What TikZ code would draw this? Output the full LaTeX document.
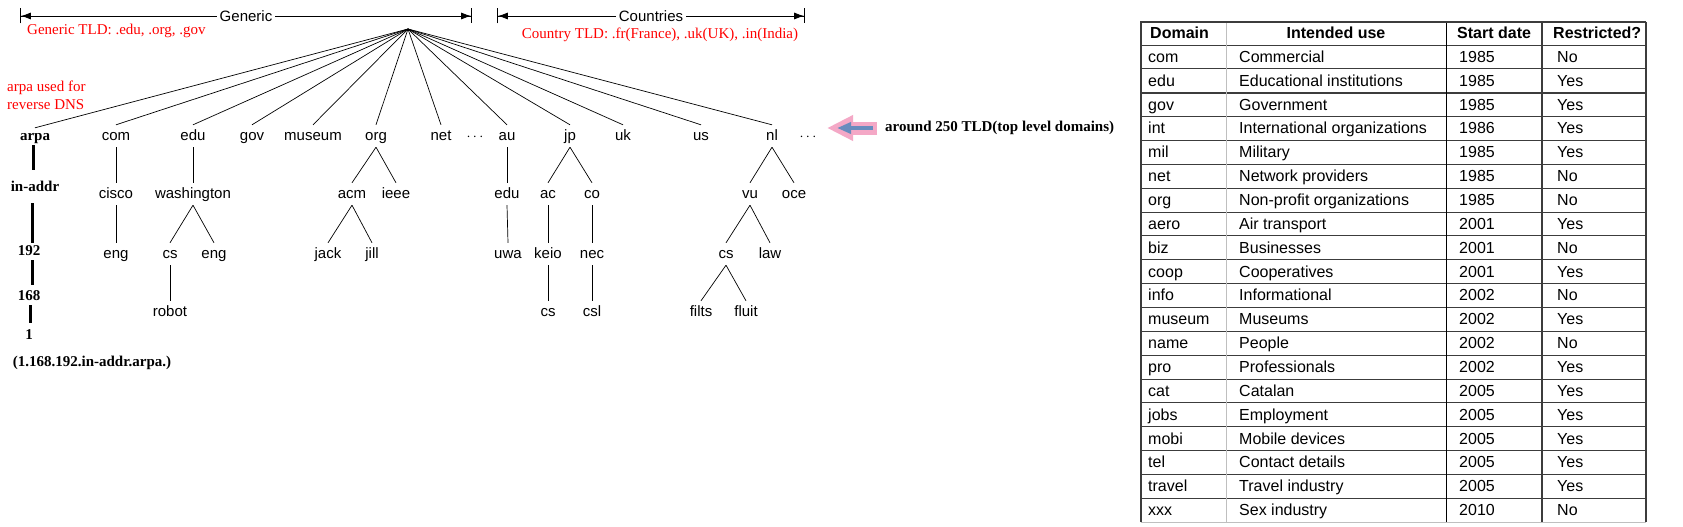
\documentclass[tikz,border=0pt]{standalone}
\usepackage{fontspec}
\setmainfont{Liberation Serif}
\setsansfont{Liberation Sans}
\usetikzlibrary{arrows.meta}
\newcommand\treefont{\sffamily\fontsize{15}{18}\selectfont}
\newcommand\notefont{\rmfamily\fontsize{15}{18}\selectfont}
\newcommand\cellfont{\sffamily\fontsize{16}{19}\selectfont}
\definecolor{pinkarrow}{RGB}{244,168,198}
\definecolor{bluearrow}{RGB}{104,140,190}
\definecolor{rulegray}{RGB}{60,60,60}
\begin{document}
\begin{tikzpicture}[x=1pt,y=-1pt,
  lbl/.style={font=\treefont, inner sep=4pt, text height=11pt, text depth=3pt, anchor=base},
  revlbl/.style={font={\notefont\bfseries}, inner sep=2pt, text height=10pt, text depth=3pt, anchor=base},
  rednote/.style={font=\notefont, text=red, inner sep=0pt},
  branch/.style={draw, line width=0.7pt},
  revedge/.style={draw, line width=3pt},
  spanarrow/.style={draw, line width=0.8pt, {Bar[width=15pt]Latex[length=10pt,width=7pt]}-{Latex[length=10pt,width=7pt]Bar[width=15pt]}},
  cell/.style={font=\cellfont, anchor=west, inner sep=0pt, text height=11.5pt, text depth=3.5pt},
  headcell/.style={cell, font={\cellfont\bfseries}},
  rowline/.style={draw=rulegray, line width=0.8pt}]
\path[use as bounding box, fill=white] (0,0) rectangle (1683,527);
\coordinate (genL) at (20,16);
\coordinate (genR) at (472,16);
\coordinate (ctyL) at (497,16);
\coordinate (ctyR) at (805,16);
\draw[spanarrow] (genL) -- node[fill=white, font=\treefont, inner sep=3pt] (generic) {Generic} (genR);
\draw[spanarrow] (ctyL) -- node[fill=white, font=\treefont, inner sep=3pt] (countries) {Countries} (ctyR);
\node[rednote, anchor=west] (gennote) at (27,31) {Generic TLD: .edu, .org, .gov};
\node[rednote] (ctynote) at (660,35) {Country TLD: .fr(France), .uk(UK), .in(India)};
\node[rednote, anchor=west, align=left] (arpanote) at (7,95) {arpa used for\\reverse DNS};
\coordinate (root) at (408,29);
\node[revlbl] (arpa) at (35,140) {arpa};
\node[lbl] (com) at (116,140) {com};
\node[lbl] (edu) at (193,140) {edu};
\node[lbl] (gov) at (252,140) {gov};
\node[lbl] (museum) at (313,140) {museum};
\node[lbl] (org) at (376,140) {org};
\node[lbl] (net) at (441,140) {net};
\node[lbl] (dotsA) at (475,140) {$\cdots$};
\node[lbl] (au) at (507,140) {au};
\node[lbl] (jp) at (570,140) {jp};
\node[lbl] (uk) at (623,140) {uk};
\node[lbl] (us) at (701,140) {us};
\node[lbl] (nl) at (772,140) {nl};
\node[lbl] (dotsB) at (808,140) {$\cdots$};
\foreach \t in {arpa,com,edu,gov,museum,org,net,au,jp,uk,us,nl}
  \draw[branch] (root) -- (\t.north);
\node[revlbl] (inaddr) at (35,191) {in-addr};
\node[revlbl] (n192) at (29,255) {192};
\node[revlbl] (n168) at (29,300) {168};
\node[revlbl] (n1) at (29,339) {1};
\node[revlbl] (revname) at (92,366) {(1.168.192.in-addr.arpa.)};
\draw[revedge] ([xshift=-2pt]arpa.south) -- ([xshift=-2pt,yshift=9pt]inaddr.north);
\draw[revedge] ([xshift=-3pt,yshift=-7pt]inaddr.south) -- ([xshift=3pt]n192.north);
\draw[revedge] ([xshift=3pt]n192.south) -- ([xshift=3pt,yshift=3pt]n168.north);
\draw[revedge] ([xshift=1.5pt]n168.south) -- ([xshift=1.5pt,yshift=4pt]n1.north);
\node[lbl] (cisco) at (116,198) {cisco};
\node[lbl] (wash) at (193,198) {washington};
\node[lbl] (acm) at (352,198) {acm};
\node[lbl] (ieee) at (396,198) {ieee};
\node[lbl] (auedu) at (507,198) {edu};
\node[lbl] (ac) at (548,198) {ac};
\node[lbl] (co) at (592,198) {co};
\node[lbl] (vu) at (750,198) {vu};
\node[lbl] (oce) at (794,198) {oce};
\node[lbl] (ciscoeng) at (116,258) {eng};
\node[lbl] (washcs) at (170,258) {cs};
\node[lbl] (washeng) at (214,258) {eng};
\node[lbl] (jack) at (328,258) {jack};
\node[lbl] (jill) at (372,258) {jill};
\node[lbl] (uwa) at (508,258) {uwa};
\node[lbl] (keio) at (548,258) {keio};
\node[lbl] (nec) at (592,258) {nec};
\node[lbl] (vucs) at (726,258) {cs};
\node[lbl] (law) at (770,258) {law};
\node[lbl] (robot) at (170,316) {robot};
\node[lbl] (keiocs) at (548,316) {cs};
\node[lbl] (csl) at (592,316) {csl};
\node[lbl] (filts) at (701,316) {filts};
\node[lbl] (fluit) at (746,316) {fluit};
\foreach \a/\b in {com/cisco,edu/wash,org/acm,org/ieee,au/auedu,jp/ac,jp/co,nl/vu,nl/oce,
  cisco/ciscoeng,wash/washcs,wash/washeng,acm/jack,acm/jill,auedu/uwa,ac/keio,co/nec,vu/vucs,vu/law,
  washcs/robot,keio/keiocs,nec/csl,vucs/filts,vucs/fluit}
  \draw[branch] (\a.south) -- (\b.north);
\coordinate (tldtail) at (877,128);
\coordinate (tldtip) at (827,128);
\coordinate (bluetail) at (873,128);
\coordinate (bluetip) at (837,128);
\draw[pinkarrow, line width=13pt, -{Triangle[length=26pt,width=24pt]}] (tldtail) -- (tldtip);
\draw[bluearrow, line width=4.5pt, -{Triangle[length=14pt,width=11pt]}] (bluetail) -- (bluetip);
\node[font={\notefont\bfseries}, anchor=west, inner sep=0pt] (tld) at (885,128) {around 250 TLD(top level domains)};
\draw[rowline] (1141,45) -- (1646,45);
\foreach \i in {1,...,19}
  \draw[rowline] (1141,{45+\i*23.85}) -- (1646,{45+\i*23.85});
\foreach \i in {2,9}
  \draw[rowline, line width=1.6pt] (1141,{45+\i*23.85}) -- (1646,{45+\i*23.85});
\draw[gray!50, line width=0.8pt] (1141,522) -- (1646,522);
\draw[gray!50, line width=0.9pt] (1226,22) -- (1226,522);
\draw[black, line width=0.8pt] (1446,22) -- (1446,522);
\draw[rulegray, line width=1.8pt] (1542,22) -- (1542,522);
\draw[rulegray, line width=1.2pt] (1141,522) -- (1141,22) -- (1646,22);
\draw[rulegray, line width=1.6pt] (1646,22) -- (1646,522);
\node[headcell] (hdom) at (1150,35) {Domain};
\node[headcell, anchor=center] (huse) at (1336,35) {Intended use};
\node[headcell] (hstart) at (1457,35) {Start date};
\node[headcell] (hrs) at (1553,35) {Restricted?};
\foreach \dom/\use/\yr/\rs [count=\i] in {com/Commercial/1985/No,
  edu/Educational institutions/1985/Yes,gov/Government/1985/Yes,
  int/International organizations/1986/Yes,mil/Military/1985/Yes,
  net/Network providers/1985/No,org/Non-profit organizations/1985/No,
  aero/Air transport/2001/Yes,biz/Businesses/2001/No,coop/Cooperatives/2001/Yes,
  info/Informational/2002/No,museum/Museums/2002/Yes,name/People/2002/No,
  pro/Professionals/2002/Yes,cat/Catalan/2005/Yes,jobs/Employment/2005/Yes,
  mobi/Mobile devices/2005/Yes,tel/Contact details/2005/Yes,
  travel/Travel industry/2005/Yes,xxx/Sex industry/2010/No}{
  \node[cell] (dom\i) at (1148,{45+(\i-0.5)*23.85+1.5}) {\dom};
  \node[cell] (use\i) at (1239,{45+(\i-0.5)*23.85+1.5}) {\use};
  \node[cell] (yr\i) at (1459,{45+(\i-0.5)*23.85+1.5}) {\yr};
  \node[cell] (rs\i) at (1557,{45+(\i-0.5)*23.85+1.5}) {\rs};
}
\end{tikzpicture}
\end{document}
